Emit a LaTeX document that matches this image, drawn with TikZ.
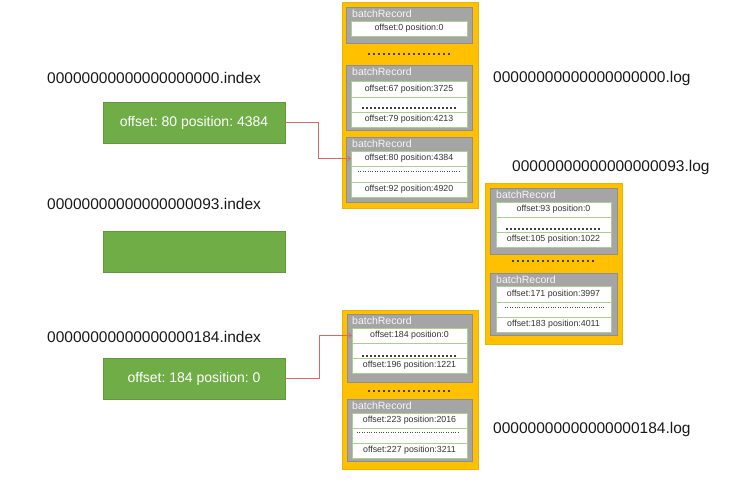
\documentclass[tikz,border=0pt]{standalone}
\usepackage{fontspec}
\setmainfont{Liberation Sans}
\usetikzlibrary{arrows.meta}
\frenchspacing
\definecolor{orangeC}{HTML}{FFC000}
\definecolor{orangeD}{HTML}{F0B400}
\definecolor{grayC}{HTML}{A5A5A5}
\definecolor{grayD}{HTML}{8E8E8E}
\definecolor{greenC}{HTML}{70AD47}
\definecolor{greenD}{HTML}{5E9A3A}
\definecolor{rowline}{HTML}{A9D18E}
\definecolor{linkC}{HTML}{E06666}
\newcommand\rectnode[7]{\node[#1, minimum width={(#4-#2)*1pt}, minimum height={(#5-#3)*1pt}] (#6) at (#2,#3) {#7};}
\newcommand\dotrow[4]{\foreach \i in {0,...,#3}{\fill[dotfill] ({#1+\i*#4-1},{#2-1}) rectangle ++(2,2);}}
\begin{document}
\begin{tikzpicture}[x=1pt,y=-1pt,
 filelabel/.style={font=\fontsize{15.5}{18}\selectfont, text=black!90, inner sep=0, anchor=west, text height=11.1pt, text depth=0pt},
 idxbox/.style={fill=greenC, draw=greenD, line width=0.6pt, inner sep=0, outer sep=0, anchor=north west, text=white, font=\fontsize{14}{16}\selectfont},
 seg/.style={fill=orangeC, draw=orangeD, line width=0.5pt, inner sep=0, outer sep=0, anchor=north west},
 batch/.style={fill=grayC, draw=grayD, line width=0.7pt, inner sep=0, outer sep=0, anchor=north west},
 batchlbl/.style={font=\fontsize{10.5}{12}\selectfont, text=white!94!gray, inner sep=0, anchor=west},
 rowbox/.style={fill=white, draw=rowline, line width=0.7pt, inner sep=0, outer sep=0, anchor=north west, font=\fontsize{8.8}{10}\selectfont, text=black!80},
 dotfill/.style={black!75},
 smalldots/.style={line width=0.6pt, dash pattern=on 0.7pt off 1.7pt, black!70},
 link/.style={draw=linkC, line width=0.7pt, -{Straight Barb[length=3pt,width=5pt]}}
]
\useasboundingbox (0,0) rectangle (729,494);

% file labels
\node[filelabel] (lidx0) at (47,78) {00000000000000000000.index};
\node[filelabel] (lidx93) at (47,204) {00000000000000000093.index};
\node[filelabel] (lidx184) at (47,337) {00000000000000000184.index};
\node[filelabel] (llog0) at (493,77) {00000000000000000000.log};
\node[filelabel] (llog93) at (512,166) {00000000000000000093.log};
\node[filelabel] (llog184) at (493,428) {00000000000000000184.log};

% index boxes
\rectnode{idxbox}{103}{102}{285}{143}{ix1}{offset: 80 position: 4384}
\rectnode{idxbox}{103}{231}{285}{272}{ix2}{}
\rectnode{idxbox}{103}{358}{285}{399}{ix3}{offset: 184 position: 0}

% ---------- segment 0 ----------
\rectnode{seg}{342}{2}{478}{208}{s1}{}
\rectnode{batch}{346}{7}{472}{43}{g11}{}
\node[batchlbl] (b11) at (352,14) {batchRecord};
\rectnode{rowbox}{351}{21}{467}{36}{r11a}{offset:0 position:0}
\dotrow{369}{54}{16}{5}
\rectnode{batch}{346}{65}{472}{130}{g12}{}
\node[batchlbl] (b12) at (352,72) {batchRecord};
\rectnode{rowbox}{351}{81}{467}{97}{r12a}{offset:67 position:3725}
\rectnode{rowbox}{351}{97}{467}{112}{r12b}{}
\rectnode{rowbox}{351}{112}{467}{127}{r12c}{offset:79 position:4213}
\dotrow{363}{108}{23}{4}
\rectnode{batch}{346}{137}{472}{202}{g13}{}
\node[batchlbl] (b13) at (352,144) {batchRecord};
\rectnode{rowbox}{351}{151}{467}{166}{r13a}{offset:80 position:4384}
\rectnode{rowbox}{351}{166}{467}{182}{r13b}{}
\rectnode{rowbox}{351}{182}{467}{197}{r13c}{offset:92 position:4920}
\draw[smalldots] (358,171) -- (460,171);

% ---------- segment 93 ----------
\rectnode{seg}{485}{183}{622}{344}{s2}{}
\rectnode{batch}{490}{188}{617}{254}{g21}{}
\node[batchlbl] (b21) at (496,195) {batchRecord};
\rectnode{rowbox}{496}{202}{611}{217}{r21a}{offset:93 position:0}
\rectnode{rowbox}{496}{217}{611}{232}{r21b}{}
\rectnode{rowbox}{496}{232}{611}{247}{r21c}{offset:105 position:1022}
\dotrow{507}{229}{23}{4}
\dotrow{513}{261}{16}{5}
\rectnode{batch}{490}{273}{617}{335}{g22}{}
\node[batchlbl] (b22) at (496,280) {batchRecord};
\rectnode{rowbox}{496}{286}{611}{302}{r22a}{offset:171 position:3997}
\rectnode{rowbox}{496}{302}{611}{317}{r22b}{}
\rectnode{rowbox}{496}{317}{611}{332}{r22c}{offset:183 position:4011}
\draw[smalldots] (505,307) -- (605,307);

% ---------- segment 184 ----------
\rectnode{seg}{342}{310}{478}{469}{s3}{}
\rectnode{batch}{347}{314}{472}{382}{g31}{}
\node[batchlbl] (b31) at (352,321) {batchRecord};
\rectnode{rowbox}{352}{328}{467}{343}{r31a}{offset:184 position:0}
\rectnode{rowbox}{352}{343}{467}{358}{r31b}{}
\rectnode{rowbox}{352}{358}{467}{373}{r31c}{offset:196 position:1221}
\dotrow{363}{356}{23}{4}
\dotrow{369}{391}{16}{5}
\rectnode{batch}{347}{399}{472}{461}{g32}{}
\node[batchlbl] (b32) at (352,406) {batchRecord};
\rectnode{rowbox}{352}{413}{467}{428}{r32a}{offset:223 position:2016}
\rectnode{rowbox}{352}{428}{467}{443}{r32b}{}
\rectnode{rowbox}{352}{443}{467}{458}{r32c}{offset:227 position:3211}
\draw[smalldots] (357,432) -- (460,432);

% links
\draw[link] (ix1.east) -- ([xshift=33pt]ix1.east) |- (r13a.west);
\draw[link] (ix3.east) -- ([xshift=34pt]ix3.east) |- (r31a.west);
\end{tikzpicture}
\end{document}
